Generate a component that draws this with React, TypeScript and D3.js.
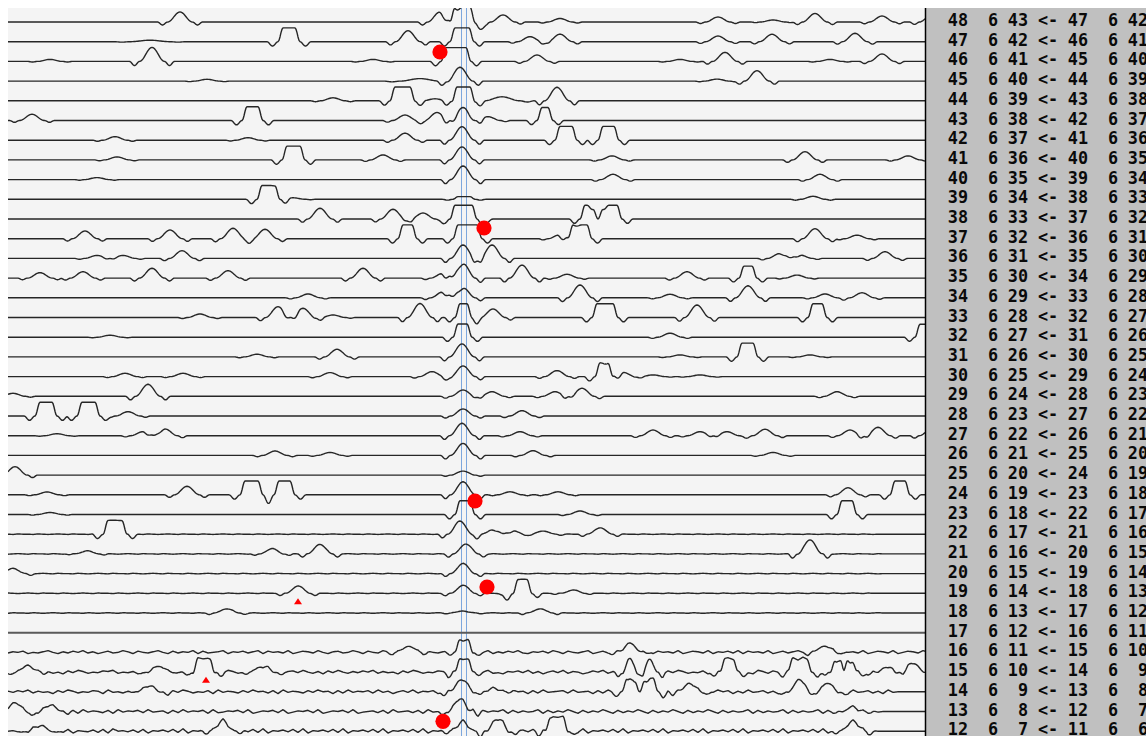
import React from 'react';
import * as d3 from 'd3';

// Channel rows, top to bottom
const ROWS = [48, 47, 46, 45, 44, 43, 42, 41, 40, 39, 38, 37, 36, 35, 34, 33, 32, 31, 30, 29, 28, 27, 26, 25, 24, 23, 22, 21, 20, 19, 18, 17, 16, 15, 14, 13, 12];
const DEAD_ROWS = [17];

// Rounded peaks: [row, bin, height, half-width]
const PEAKS: number[][] = [
  [48, 180, 10], [48, 440, 10], [48, 503, 7], [48, 560, 3.5], [48, 718, 5], [48, 773, 2], [48, 815, 8.5], [48, 882, 6], [48, 932, 8],
  [47, 150, 1.5, 20], [47, 408, 11], [47, 530, 5], [47, 560, 7.5], [47, 718, 5.7], [47, 772, 7.4], [47, 855, 8.4],
  [46, 50, 2], [46, 152, 14], [46, 373, 2], [46, 537, 6.4], [46, 680, 2], [46, 725, 9], [46, 830, 2], [46, 882, 7.4],
  [45, 207, 1.8], [45, 420, 2.5, 20], [45, 460, 13.8, 13], [45, 717, 2], [45, 757, 10.4],
  [44, 333, 3], [44, 435, 2], [44, 502, 4, 18], [44, 557, 13.5],
  [43, 32, 6.2], [43, 405, 5.5], [43, 437, 8], [43, 463, 13], [43, 488, 3.8],
  [42, 115, 3.5], [42, 248, 2.5], [42, 405, 7], [42, 462, 13.5],
  [41, 117, 3], [41, 383, 5], [41, 462, 13], [41, 612, 4], [41, 805, 8.2], [41, 908, 4],
  [40, 97, 2], [40, 463, 13.6], [40, 613, 5.3], [40, 820, 5.3],
  [39, 293, 1.5], [39, 813, 3],
  [38, 320, 10.7], [38, 393, 9.7], [38, 423, 6],
  [37, 85, 7.7], [37, 170, 8.7], [37, 233, 10.4], [37, 265, 9.4], [37, 560, 4, 12], [37, 815, 10], [37, 857, 3.5],
  [36, 97, 3], [36, 123, 3], [36, 182, 7.7], [36, 463, 13.4], [36, 492, 13.4], [36, 780, 5], [36, 800, 3.4], [36, 885, 6.7],
  [35, 40, 5.4], [35, 83, 6.4], [35, 152, 9.8], [35, 228, 7.4], [35, 363, 9.8], [35, 443, 4.8], [35, 463, 14.5], [35, 522, 13], [35, 567, 3.8], [35, 687, 6.4], [35, 797, 3],
  [34, 308, 3.8], [34, 443, 6], [34, 463, 10], [34, 580, 12.8], [34, 670, 3.5], [34, 748, 12], [34, 825, 3.8], [34, 862, 5],
  [33, 200, 3.5], [33, 278, 10.8], [33, 303, 9.2], [33, 333, 2.5], [33, 420, 14], [33, 493, 8.5], [33, 697, 12.5],
  [32, 110, 2], [32, 670, 4],
  [31, 257, 2.7], [31, 337, 7.6], [31, 462, 13], [31, 680, 2], [31, 810, 2],
  [30, 125, 3.3], [30, 183, 3.3], [30, 330, 4], [30, 432, 5], [30, 463, 10.7], [30, 557, 6], [30, 623, 4.3], [30, 653, 1.7], [30, 700, 1.7],
  [29, 13, 3], [29, 148, 12], [29, 463, 6.3], [29, 492, 4.6], [29, 555, 4.6], [29, 582, 8], [29, 837, 4.6],
  [28, 128, 4.3], [28, 463, 7], [28, 522, 5.3],
  [27, 57, 2], [27, 143, 4], [27, 165, 6.7], [27, 462, 12.4], [27, 520, 4], [27, 653, 5.7], [27, 700, 4], [27, 727, 4], [27, 765, 6.4], [27, 850, 5.7], [27, 878, 8.4], [27, 932, 8],
  [26, 275, 4.4], [26, 330, 3], [26, 463, 12], [26, 533, 4.7], [26, 773, 3],
  [25, 15, 8.4], [25, 463, 4],
  [24, 47, 2.8], [24, 187, 8.5], [24, 463, 13], [24, 510, 3], [24, 558, 3], [24, 848, 7],
  [23, 50, 2], [23, 580, 3.5],
  [22, 460, 13], [22, 493, 4.5], [22, 513, 3.3], [22, 543, 3.3], [22, 600, 6.5],
  [21, 87, 3], [21, 272, 5.2], [21, 320, 9.6], [21, 466, 10], [21, 810, 14],
  [20, 13, 5.3], [20, 463, 10],
  [19, 298, 7.3], [19, 463, 8], [19, 573, 3.3],
  [18, 227, 4.3], [18, 463, 2], [18, 540, 4.3],
  [16, 408, 6], [16, 630, 9], [16, 825, 6.4],
  [15, 27, 6], [15, 160, 6], [15, 263, 6], [15, 630, 13, 8], [15, 650, 13, 8], [15, 887, 5], [15, 913, 9.4],
  [14, 150, 5.8], [14, 462, 12.5], [14, 493, 4], [14, 690, 9], [14, 800, 11.8], [14, 827, 8.5],
  [13, 15, 8], [13, 50, 5.7], [13, 460, 12], [13, 853, 4],
  [12, 40, 6], [12, 223, 10], [12, 463, 9], [12, 498, 12], [12, 853, 9.5],
];

// Saturated (flat-topped) pulses: [row, from, to, height]
const PLATEAUS: number[][] = [
  [48, 455, 470, 15],
  [47, 283, 295], [47, 455, 469],
  [46, 446, 466],
  [44, 395, 410], [44, 457, 470],
  [43, 247, 258], [43, 542, 548, 13],
  [42, 560, 572], [42, 603, 614],
  [41, 287, 300],
  [39, 262, 275], [39, 458, 470, 2.7],
  [38, 455, 472], [38, 585, 593], [38, 603, 617],
  [37, 403, 412], [37, 458, 477], [37, 573, 587],
  [35, 744, 752, 12],
  [33, 460, 467], [33, 597, 613], [33, 813, 822],
  [32, 458, 467, 13.2], [32, 920, 932, 13],
  [31, 742, 753],
  [30, 600, 608],
  [28, 40, 52], [28, 82, 95],
  [24, 245, 258], [24, 279, 290], [24, 895, 905],
  [23, 460, 470], [23, 842, 852],
  [22, 108, 122],
  [19, 518, 527],
  [16, 460, 468, 12.4],
  [15, 198, 210], [15, 460, 468], [15, 725, 733], [15, 793, 807], [15, 835, 840], [15, 848, 852],
  [14, 627, 635], [14, 645, 653],
  [12, 550, 563],
];

// Extra undershoots: [row, bin, depth, half-width]
const DIPS: number[][] = [
  [48, 481, 3, 9],
  [38, 485, 5, 8],
  [19, 505, 3, 8],
];

// Baseline noise, one digit every NOISE_STEP bins
const NOISE_STEP = 5;
const NOISE_ROWS = [16, 15, 14, 13, 12, 22, 21, 20, 19, 18];
const NOISE_GAIN = [0.6, 0.6, 0.6, 0.6, 0.6, 0.25, 0.3, 0.3, 0.3, 0.3];
const NOISE_TEXT = [
  '4657354685364758463574586375468537465837456836574683756483576485367458637548637456837546857364758364758436574863754683574683654783756483576483657483756483574685376548375648357648357648',
  '5364758463527486354768354627485364758364527486354762845367485362748536475836452748635476285346758342657483625748365247583642758463527486354725846375428637548627354862735486273548627354',
  '6475836452748635476284536758463527486354728465374856372846537485627384657384625748365724856374852637485627384567384562738456273845627384527364857263845736284573628457362845736284',
  '4758362748563728465372846573845627384657283465738246573824657382465738245637284563728456374829374658273645827364852736485273648527364852736485273645827364582736458273645827364',
  '5647382654738265473829564738265748392657483926574839265748392657483926574839265748392657483926574839256748392657483926574839265748392657483926574839265748392657483926574839265',
  '5465546545654655465456546554654565465546545654655465456546554654565465546545654655465456546554654565465546545654655465456546554654565465546545654655465456546554654565465546545',
  '4565465546545654655465456546554654565465546545654655465456546554654565465546545654655465456546554654565465546545654655465456546554654565465546545654655465456546554654565465546',
  '5546545654655465456546554654565465546545654655465456546554654565465546545654655465456546554654565465546545654655465456546554654565465546545654655465456546554654565465546545654',
  '6545654655465456546554654565465546545654655465456546554654565465546545654655465456546554654565465546545654655465456546554654565465546545654655465456546554654565465546545654655',
  '4655465456546554654565465546545654655465456546554654565465546545654655465456546554654565465546545654655465456546554654565465546545654655465456546554654565465546545654655465456',
];

// Event markers: [row, bin, amplitude]
const DOTS: number[][] = [[46, 440, 9.4], [38, 484, -9], [24, 475, -6.2], [19, 487, 6.3], [12, 443, 9.9]];
const TRIANGLES: number[][] = [[19, 298, -5], [15, 206, -4.6]];

// Reference cursors
const CURSORS = [461.5, 466.5];

const VIEW_W = 1146;
const VIEW_H = 736;
const PLOT_L = 8;
const PLOT_R = 925;
const PLOT_T = 8;

const xScale = d3.scaleLinear().domain([8, 925]).range([PLOT_L, PLOT_R]);
const rowScale = d3.scaleLinear().domain([48, 12]).range([22, 731.2]);
const ampScale = d3.scaleLinear().domain([0, 1]).range([0, -1]);

const BINS = d3.range(8, 926);

function rowSignal(row: number): number[] {
  const v = BINS.map(() => 0);
  PEAKS.filter((p) => p[0] === row).forEach((p) => {
    const c = p[1];
    const h = p[2];
    const w = p[3] ?? 12.5;
    const depth = 0.3 * Math.min(h, 14);
    const dw = Math.max(8, 0.8 * w);
    BINS.forEach((x, i) => {
      const d = Math.abs(x - c);
      if (d < w) v[i] += h * Math.cos((Math.PI * d) / (2 * w)) ** 2;
      else if (d < w + dw) v[i] -= depth * Math.sin((Math.PI * (d - w)) / dw) ** 2;
    });
  });
  PLATEAUS.filter((p) => p[0] === row).forEach((p) => {
    const a = p[1];
    const b = p[2];
    const h = p[3] ?? 13.8;
    const c = (a + b) / 2;
    const t = (b - a) / 2;
    const s = 5;
    const depth = 4.4 * Math.min(h / 13.8, 1);
    const dw = 11;
    BINS.forEach((x, i) => {
      const d = Math.abs(x - c);
      if (d <= t) v[i] += h;
      else if (d < t + s) v[i] += h * Math.cos((Math.PI * (d - t)) / (2 * s)) ** 2;
      else if (d < t + s + dw) v[i] -= depth * Math.sin((Math.PI * (d - t - s)) / dw) ** 2;
    });
  });
  DIPS.filter((p) => p[0] === row).forEach((p) => {
    const c = p[1];
    const depth = p[2];
    const w = p[3];
    BINS.forEach((x, i) => {
      const d = Math.abs(x - c);
      if (d < w) v[i] -= depth * Math.cos((Math.PI * d) / (2 * w)) ** 2;
    });
  });
  const ni = NOISE_ROWS.indexOf(row);
  if (ni >= 0) {
    const txt = NOISE_TEXT[ni];
    const g = NOISE_GAIN[ni];
    const val = (k: number) => (Number(txt[k] ?? '5') - 5) * g;
    BINS.forEach((x, i) => {
      const pos = (x - 8) / NOISE_STEP;
      const k = Math.floor(pos);
      const f = pos - k;
      v[i] += val(k) * (1 - f) + val(k + 1) * f;
    });
  }
  return v.map((y) => Math.min(y, 15));
}

export default function App() {
  const traces = ROWS.map((row) => {
    const sig = rowSignal(row);
    const base = rowScale(row);
    const line = d3
      .line<number>()
      .x((_, i) => xScale(BINS[i]))
      .y((d) => base + ampScale(d));
    return { row, d: line(sig) ?? '' };
  });

  const labelY = (row: number) => rowScale(row) + 4;
  const mono = { fontFamily: '"DejaVu Sans Mono", monospace', fontWeight: 700, fontSize: 16.8, fill: '#0a0a0a' } as const;

  return (
    <svg
      width={VIEW_W}
      height={VIEW_H}
      style={{ position: 'fixed', left: 0, top: 0, display: 'block' }}
    >
      <defs>
        <clipPath id="plotClip">
          <rect x={PLOT_L} y={PLOT_T} width={PLOT_R - PLOT_L} height={VIEW_H - PLOT_T} />
        </clipPath>
      </defs>
      <rect x={0} y={0} width={VIEW_W} height={VIEW_H} fill="#ffffff" />
      <rect x={PLOT_L} y={PLOT_T} width={PLOT_R - PLOT_L} height={VIEW_H - PLOT_T} fill="#f4f4f4" />
      <rect x={PLOT_R + 1} y={PLOT_T} width={VIEW_W - PLOT_R - 1} height={VIEW_H - PLOT_T} fill="#c0c0c0" />
      <g clipPath="url(#plotClip)">
        {CURSORS.map((c) => (
          <line key={c} x1={xScale(c)} x2={xScale(c)} y1={PLOT_T} y2={VIEW_H} stroke="#7da7dd" strokeWidth={1} />
        ))}
        {traces.map((t) =>
          DEAD_ROWS.includes(t.row) ? (
            <path key={t.row} d={t.d} fill="none" stroke="#5a5a5a" strokeWidth={2} />
          ) : (
            <path key={t.row} d={t.d} fill="none" stroke="#262626" strokeWidth={1.4} strokeLinejoin="round" />
          )
        )}
        {DOTS.map(([row, x, a], i) => (
          <circle key={'dot' + i} cx={xScale(x)} cy={rowScale(row) + ampScale(a)} r={7.6} fill="#ff0000" />
        ))}
        {TRIANGLES.map(([row, x, a], i) => {
          const cx = xScale(x);
          const top = rowScale(row) + ampScale(a);
          return <path key={'tri' + i} d={`M${cx},${top} L${cx + 4},${top + 6} L${cx - 4},${top + 6} Z`} fill="#ff0000" />;
        })}
      </g>
      <line x1={PLOT_R + 0.5} x2={PLOT_R + 0.5} y1={PLOT_T} y2={VIEW_H} stroke="#000" strokeWidth={1.5} />
      <g style={{ whiteSpace: 'pre' }}>
        {ROWS.map((row) => (
          <g key={'lab' + row}>
            <text x={968} y={labelY(row)} textAnchor="end" {...mono}>{row}</text>
            <text x={998} y={labelY(row)} textAnchor="end" {...mono}>6</text>
            <text x={1028} y={labelY(row)} textAnchor="end" {...mono}>{row - 5}</text>
            <text x={1038} y={labelY(row)} {...mono}>{'<-'}</text>
            <text x={1088} y={labelY(row)} textAnchor="end" {...mono}>{row - 1}</text>
            <text x={1118} y={labelY(row)} textAnchor="end" {...mono}>6</text>
            <text x={1148} y={labelY(row)} textAnchor="end" {...mono}>{row - 6}</text>
          </g>
        ))}
      </g>
    </svg>
  );
}
